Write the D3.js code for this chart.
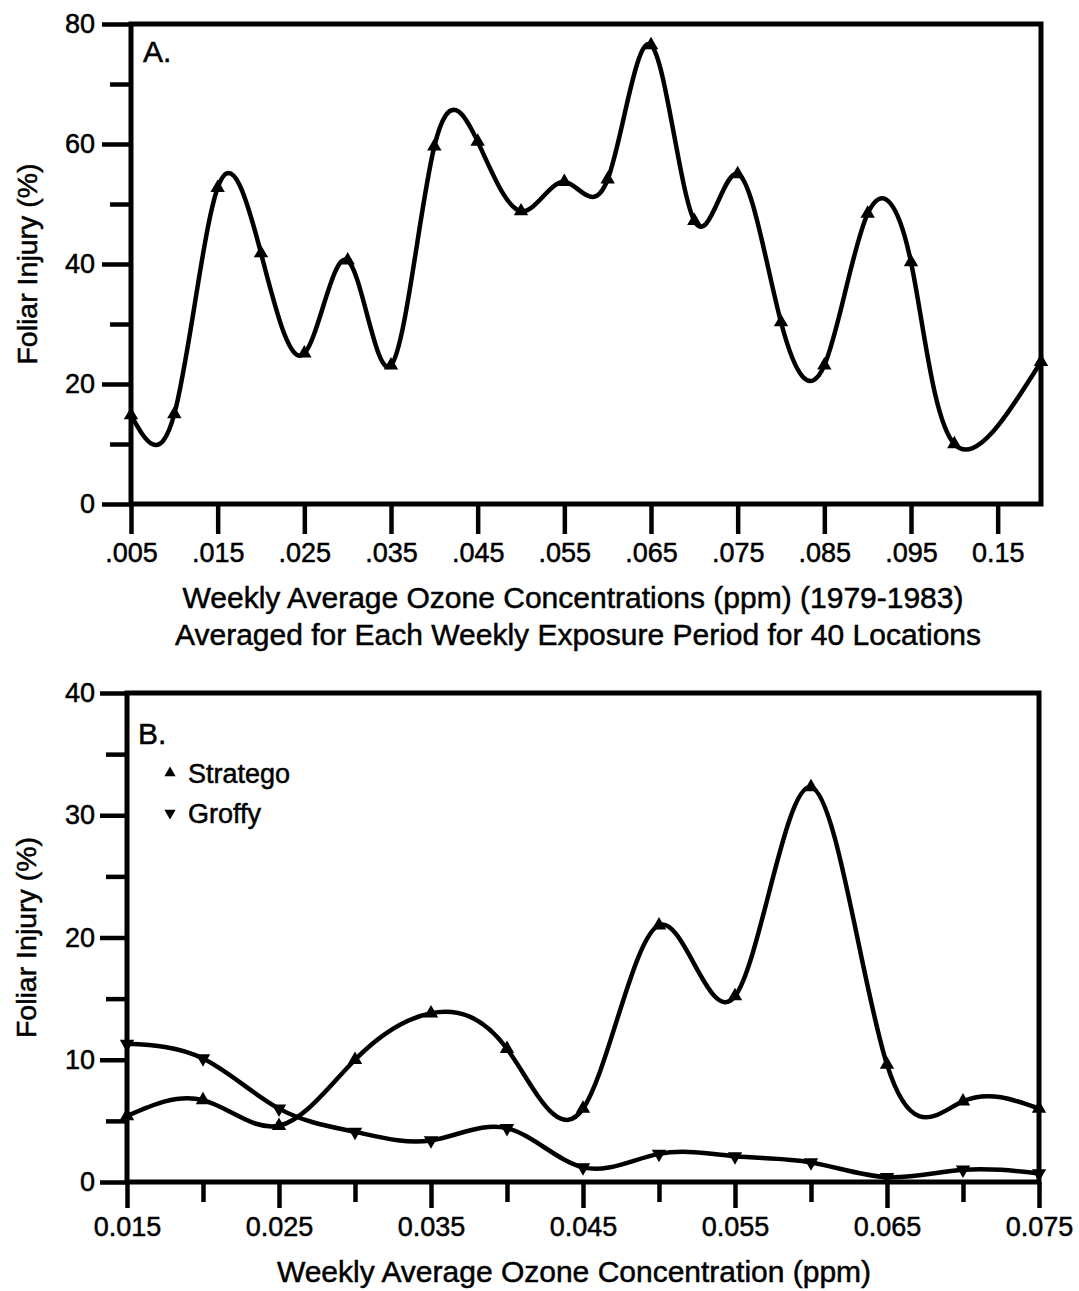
<!DOCTYPE html>
<html>
<head>
<meta charset="utf-8">
<script src="https://cdn.jsdelivr.net/npm/d3@7"></script>
<style>
  html, body { margin: 0; padding: 0; background: #fff; }
  svg text { font-family: "Liberation Sans", Arial, Helvetica, sans-serif; fill: #000;
             stroke: #000; stroke-width: 0.5px; }
</style>
</head>
<body>
<svg id="chart" width="1079" height="1291"></svg>
<script>
// Panel A: weekly average ozone bins (ppm) and foliar injury (%)
const concA = [0.005, 0.010, 0.015, 0.020, 0.025, 0.030, 0.035, 0.040, 0.045, 0.050,
               0.055, 0.060, 0.065, 0.070, 0.075, 0.080, 0.085, 0.090, 0.095, 0.100, 0.110];
const injuryA = [14.8, 15.0, 52.7, 41.8, 25.1, 40.6, 23.1, 59.6, 60.4, 48.8,
                 53.7, 54.1, 76.5, 47.2, 55.0, 30.3, 23.1, 48.4, 40.3, 10.0, 23.7];
const tickValuesA = [0.005, 0.015, 0.025, 0.035, 0.045, 0.055, 0.065, 0.075, 0.085, 0.095, 0.105];
const tickLabelsA = [".005", ".015", ".025", ".035", ".045", ".055", ".065", ".075", ".085", ".095", "0.15"];
const yMajorA = [0, 20, 40, 60, 80];
const yMinorA = [10, 30, 50, 70];

// Panel B: two cultivars
const concB = [0.015, 0.020, 0.025, 0.030, 0.035, 0.040, 0.045, 0.050, 0.055, 0.060, 0.065, 0.070, 0.075];
const stratego = [5.4, 6.7, 4.6, 10.0, 13.8, 10.9, 6.0, 21.0, 15.2, 32.3, 9.6, 6.6, 6.0];
const groffy = [11.3, 10.1, 6.0, 4.1, 3.4, 4.4, 1.2, 2.3, 2.1, 1.6, 0.4, 1.0, 0.7];
const xMajorB = [0.015, 0.025, 0.035, 0.045, 0.055, 0.065, 0.075];
const xMinorB = [0.020, 0.030, 0.040, 0.050, 0.060, 0.070];
const tickLabelsB = ["0.015", "0.025", "0.035", "0.045", "0.055", "0.065", "0.075"];
const yMajorB = [0, 10, 20, 30, 40];
const yMinorB = [5, 15, 25, 35];

const svg = d3.select("#chart");
const AXIS_W = 5, TICK_W = 4.5, LINE_W = 4.5;
const TICK_FONT = "27px", TITLE_FONT = "30px", YTITLE_FONT = "28.5px";

function styleAxis(g, w) {
  g.select(".domain").remove();
  g.selectAll(".tick line").attr("stroke", "#000").attr("stroke-width", w);
  g.selectAll(".tick text").style("font-size", TICK_FONT);
}

const triUp = d3.symbol().type(d3.symbolTriangle).size(90);
const triDown = d3.symbol().type(d3.symbolTriangle).size(90);

// ---------- Panel A ----------
const A = { left: 131, right: 1041, top: 24, bottom: 504 };
const xA = d3.scaleLinear().domain([0.005, 0.110]).range([A.left, A.right]);
const yA = d3.scaleLinear().domain([0, 80]).range([A.bottom, A.top]);

const gA = svg.append("g");
gA.append("g").attr("transform", `translate(0,${A.bottom})`)
  .call(d3.axisBottom(xA).tickValues(tickValuesA).tickSize(30).tickPadding(9)
    .tickFormat((d, i) => tickLabelsA[i]))
  .call(g => styleAxis(g, TICK_W));
gA.append("g").attr("transform", `translate(${A.left},0)`)
  .call(d3.axisLeft(yA).tickValues(yMajorA).tickSize(29).tickPadding(7))
  .call(g => styleAxis(g, TICK_W));
gA.append("g").attr("transform", `translate(${A.left},0)`)
  .call(d3.axisLeft(yA).tickValues(yMinorA).tickSize(21).tickFormat(""))
  .call(g => styleAxis(g, TICK_W));
gA.append("rect").attr("x", A.left).attr("y", A.top)
  .attr("width", A.right - A.left).attr("height", A.bottom - A.top)
  .attr("fill", "none").attr("stroke", "#000").attr("stroke-width", AXIS_W);

const ptsA = concA.map((c, i) => [c, injuryA[i]]);
gA.append("path").datum(ptsA)
  .attr("d", d3.line().x(d => xA(d[0])).y(d => yA(d[1])).curve(d3.curveNatural))
  .attr("fill", "none").attr("stroke", "#000").attr("stroke-width", LINE_W)
  .attr("stroke-linejoin", "round");
gA.selectAll(".mA").data(ptsA).join("path")
  .attr("d", triUp).attr("fill", "#000")
  .attr("transform", d => `translate(${xA(d[0])},${yA(d[1])})`);

gA.append("text").attr("x", 143).attr("y", 62).style("font-size", TITLE_FONT).text("A.");
gA.append("text")
  .attr("transform", `translate(37,${(A.top + A.bottom) / 2}) rotate(-90)`)
  .attr("text-anchor", "middle").style("font-size", YTITLE_FONT).text("Foliar Injury (%)");
gA.append("text").attr("x", 573).attr("y", 608).attr("text-anchor", "middle")
  .style("font-size", TITLE_FONT).text("Weekly Average Ozone Concentrations (ppm) (1979-1983)");
gA.append("text").attr("x", 578).attr("y", 645).attr("text-anchor", "middle")
  .style("font-size", TITLE_FONT).text("Averaged for Each Weekly Exposure Period for 40 Locations");

// ---------- Panel B ----------
const B = { left: 127, right: 1039, top: 693, bottom: 1182 };
const xB = d3.scaleLinear().domain([0.015, 0.075]).range([B.left, B.right]);
const yB = d3.scaleLinear().domain([0, 40]).range([B.bottom, B.top]);

const gB = svg.append("g");
gB.append("g").attr("transform", `translate(0,${B.bottom})`)
  .call(d3.axisBottom(xB).tickValues(xMajorB).tickSize(26).tickPadding(9)
    .tickFormat((d, i) => tickLabelsB[i]))
  .call(g => styleAxis(g, TICK_W));
gB.append("g").attr("transform", `translate(0,${B.bottom})`)
  .call(d3.axisBottom(xB).tickValues(xMinorB).tickSize(20).tickFormat(""))
  .call(g => styleAxis(g, TICK_W));
gB.append("g").attr("transform", `translate(${B.left},0)`)
  .call(d3.axisLeft(yB).tickValues(yMajorB).tickSize(27).tickPadding(5))
  .call(g => styleAxis(g, TICK_W));
gB.append("g").attr("transform", `translate(${B.left},0)`)
  .call(d3.axisLeft(yB).tickValues(yMinorB).tickSize(21).tickFormat(""))
  .call(g => styleAxis(g, TICK_W));
gB.append("rect").attr("x", B.left).attr("y", B.top)
  .attr("width", B.right - B.left).attr("height", B.bottom - B.top)
  .attr("fill", "none").attr("stroke", "#000").attr("stroke-width", AXIS_W);

const lineB = d3.line().x(d => xB(d[0])).y(d => yB(d[1])).curve(d3.curveNatural);
const seriesB = [
  { name: "Stratego", values: stratego, rot: 0 },
  { name: "Groffy", values: groffy, rot: 180 }
];
seriesB.forEach(s => {
  const pts = concB.map((c, i) => [c, s.values[i]]);
  gB.append("path").datum(pts).attr("d", lineB)
    .attr("fill", "none").attr("stroke", "#000").attr("stroke-width", LINE_W)
    .attr("stroke-linejoin", "round");
  gB.append("g").selectAll("path").data(pts).join("path")
    .attr("d", s.rot ? triDown : triUp).attr("fill", "#000")
    .attr("transform", d => `translate(${xB(d[0])},${yB(d[1])}) rotate(${s.rot})`);
});

gB.append("text").attr("x", 138).attr("y", 744).style("font-size", TITLE_FONT).text("B.");
const legend = gB.append("g");
seriesB.forEach((s, i) => {
  const ly = 773 + i * 40;
  legend.append("path")
    .attr("d", d3.symbol().type(d3.symbolTriangle).size(55))
    .attr("fill", "#000")
    .attr("transform", `translate(170,${ly}) rotate(${s.rot})`);
  legend.append("text").attr("x", 188).attr("y", ly + 10)
    .style("font-size", "27px").text(s.name);
});
gB.append("text")
  .attr("transform", `translate(36,${(B.top + B.bottom) / 2}) rotate(-90)`)
  .attr("text-anchor", "middle").style("font-size", YTITLE_FONT).text("Foliar Injury (%)");
gB.append("text").attr("x", 574).attr("y", 1282).attr("text-anchor", "middle")
  .style("font-size", TITLE_FONT).text("Weekly Average Ozone Concentration (ppm)");
</script>
</body>
</html>
